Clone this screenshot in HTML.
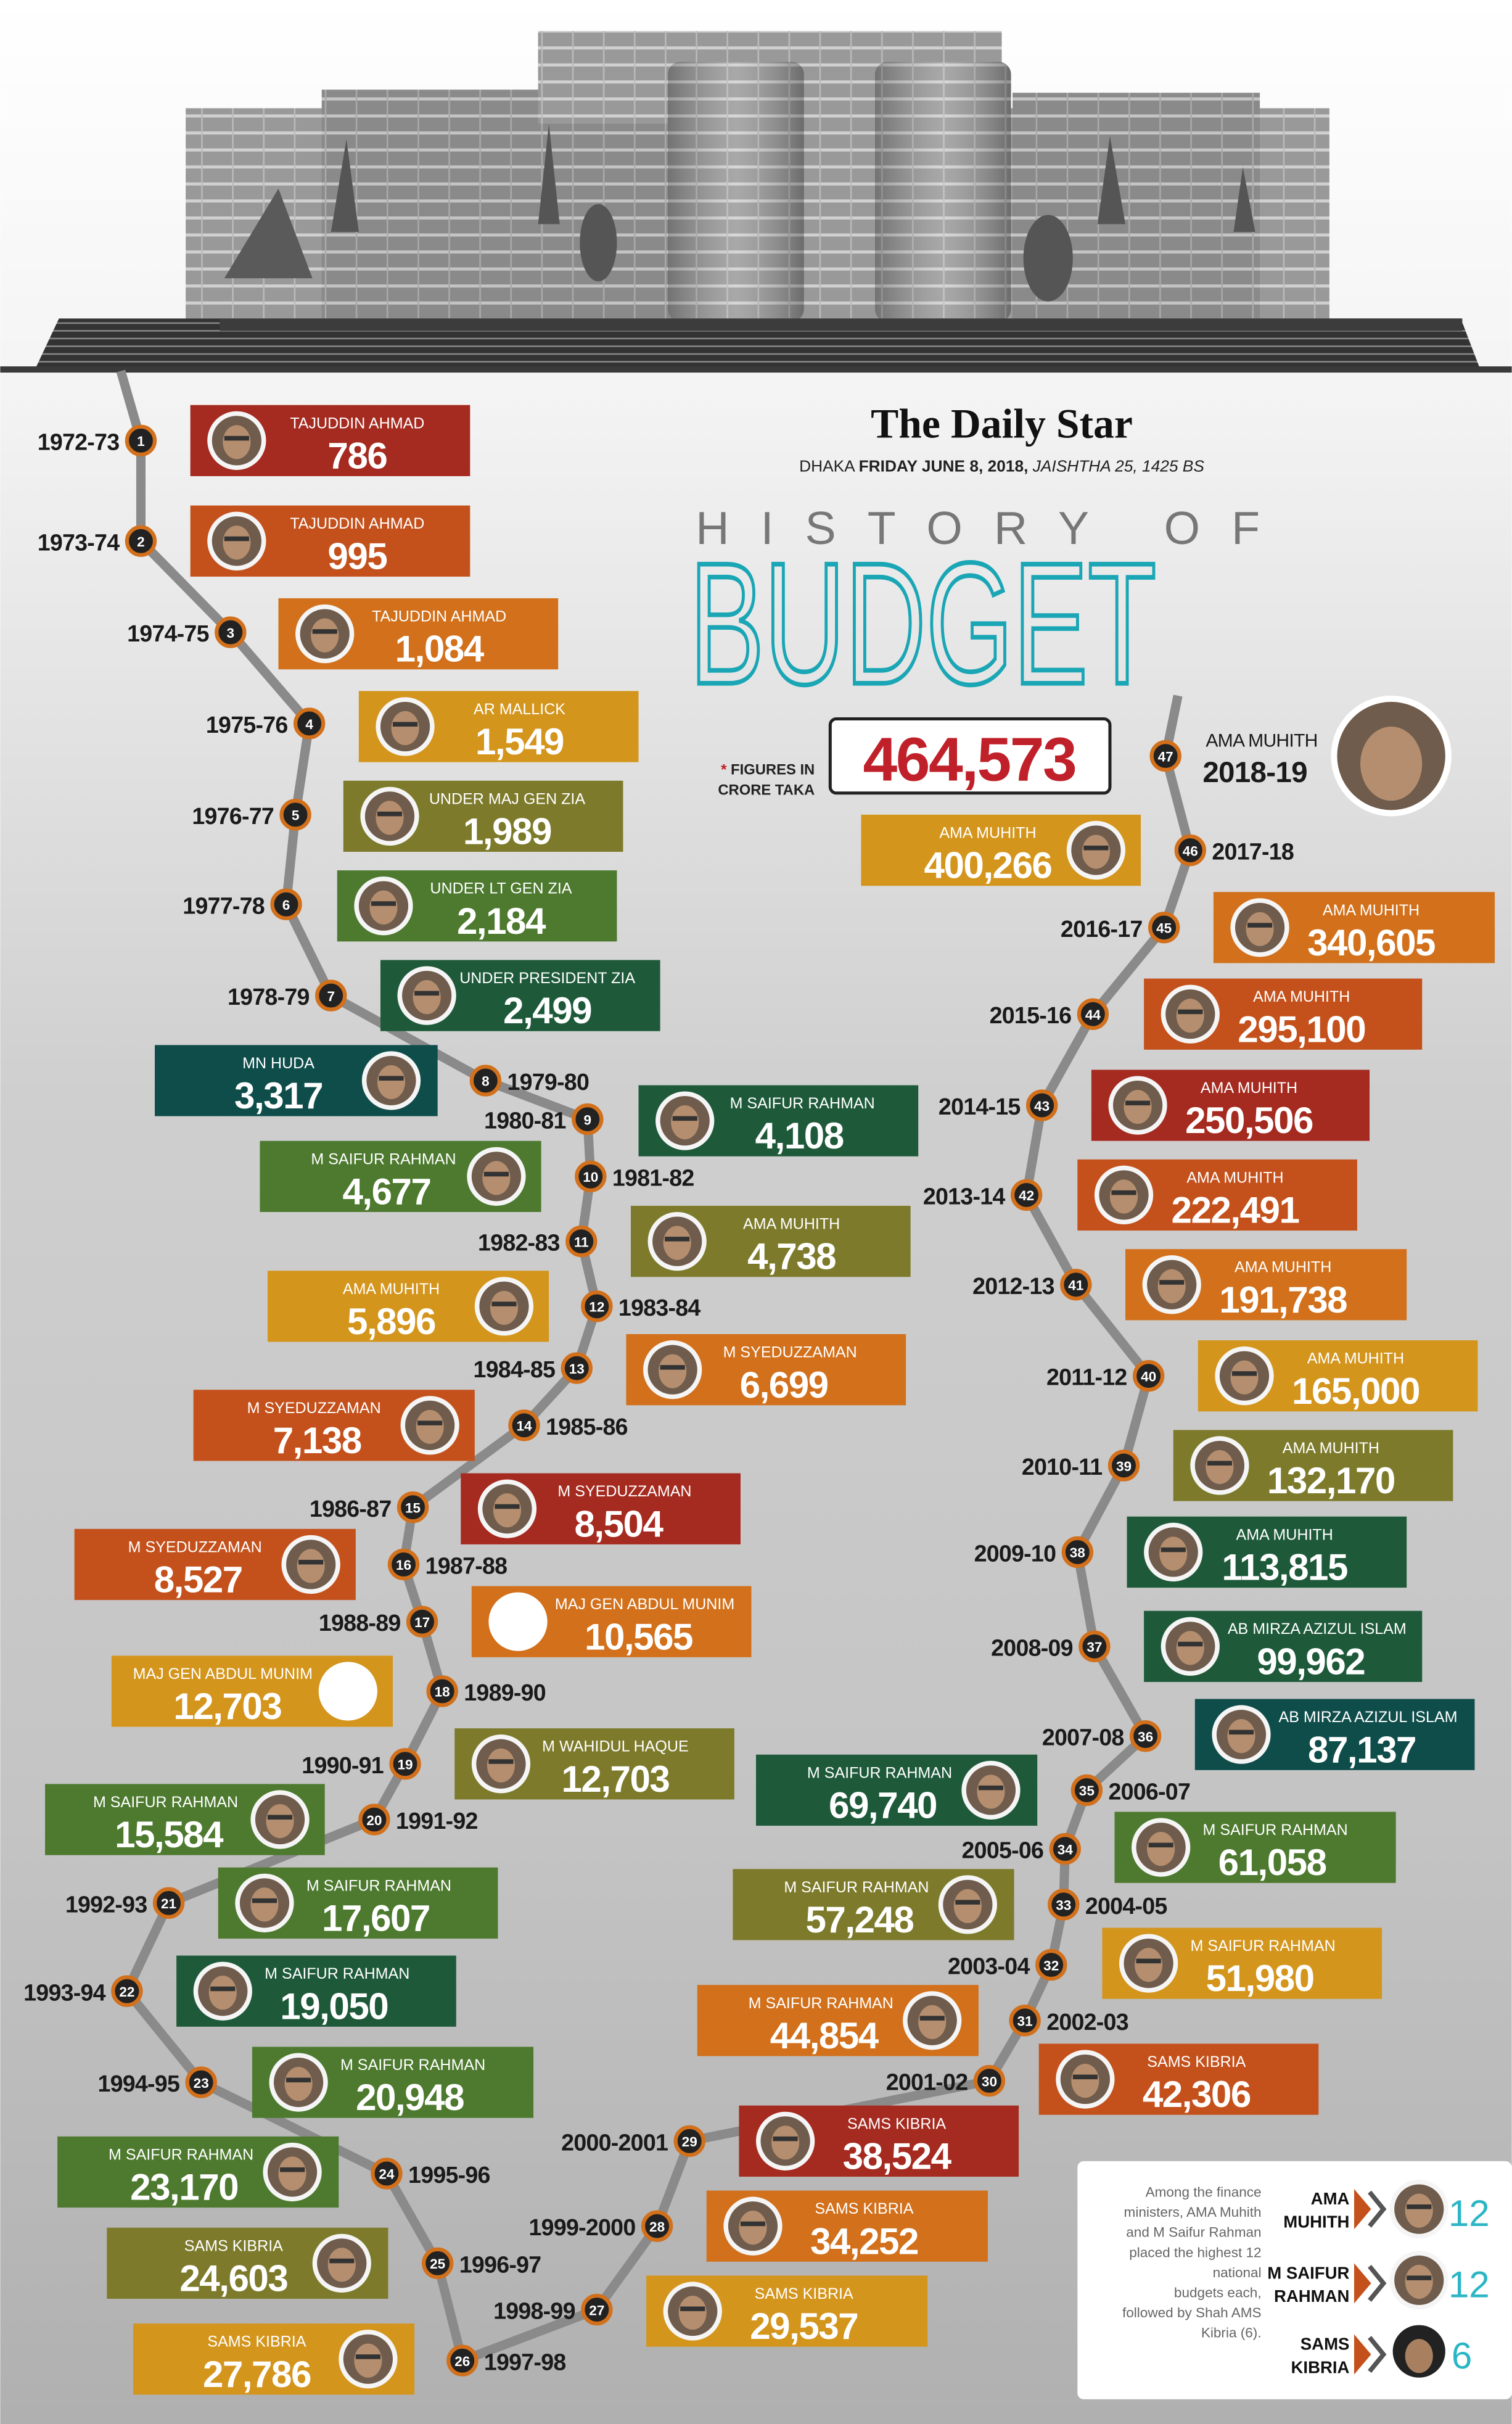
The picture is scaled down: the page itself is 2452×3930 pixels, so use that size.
<!DOCTYPE html>
<html><head><meta charset="utf-8">
<style>
html,body{margin:0;padding:0;background:#fff}
svg{display:block}
.n{fill:#fff;font-family:"Liberation Sans Narrow","Liberation Sans",sans-serif;font-size:10px;text-anchor:middle}
.v{fill:#fff;font-family:"Liberation Sans Narrow","Liberation Sans",sans-serif;font-size:24px;font-weight:bold;text-anchor:middle;letter-spacing:-0.6px}
.y{fill:#1a1a1a;font-family:"Liberation Sans Narrow","Liberation Sans",sans-serif;font-size:15px;font-weight:bold;letter-spacing:-0.3px}
.e{text-anchor:end}
.c{fill:#fff;font-family:"Liberation Sans",sans-serif;font-size:9px;font-weight:bold;text-anchor:middle}
.m circle{fill:#222;stroke:#d2701b;stroke-width:2.5}
</style></head><body>
<svg width="2452" height="3930" viewBox="0 0 978 1568" xmlns="http://www.w3.org/2000/svg">
<defs>
<linearGradient id="bg" x1="0" y1="0" x2="0" y2="1">
<stop offset="0" stop-color="#ffffff"/><stop offset="0.16" stop-color="#f4f4f4"/><stop offset="0.45" stop-color="#cfcfcf"/><stop offset="0.75" stop-color="#c4c4c4"/><stop offset="1" stop-color="#b0b0b0"/>
</linearGradient>
<linearGradient id="cyl" x1="0" y1="0" x2="1" y2="0"><stop offset="0" stop-color="#000" stop-opacity="0.25"/><stop offset="0.5" stop-color="#fff" stop-opacity="0.15"/><stop offset="1" stop-color="#000" stop-opacity="0.3"/></linearGradient>
<pattern id="st" width="20" height="11" patternUnits="userSpaceOnUse"><rect width="20" height="11" fill="#999"/><rect y="8" width="20" height="2" fill="#d0d0d0"/><rect x="10" width="1" height="11" fill="#bbb"/></pattern>
<pattern id="st2" width="20" height="11" patternUnits="userSpaceOnUse"><rect width="20" height="11" fill="#8a8a8a"/><rect y="8" width="20" height="2" fill="#c4c4c4"/><rect x="10" width="1" height="11" fill="#aaa"/></pattern>
<pattern id="stp" width="10" height="5" patternUnits="userSpaceOnUse"><rect width="10" height="5" fill="#333"/><rect y="3.5" width="10" height="1" fill="#888"/></pattern>
<g id="p"><circle r="19" fill="#f5f5f5"/><circle r="16" fill="#6f5c4c"/><ellipse cy="1" rx="9" ry="11" fill="#b48e6e"/><rect x="-8" y="-3" width="16" height="3" fill="#333"/></g>
</defs>
<rect width="978" height="1568" fill="url(#bg)"/>
<!-- building -->
<rect x="120" y="70" width="740" height="137" fill="url(#st)"/>
<rect x="208" y="58" width="230" height="150" fill="url(#st2)"/>
<rect x="655" y="60" width="160" height="148" fill="url(#st2)"/>
<rect x="348" y="20" width="300" height="60" fill="url(#st)"/>
<rect x="432" y="40" width="88" height="168" rx="8" fill="url(#st)"/><rect x="432" y="40" width="88" height="168" rx="8" fill="url(#cyl)"/>
<rect x="566" y="40" width="88" height="168" rx="8" fill="url(#st)"/><rect x="566" y="40" width="88" height="168" rx="8" fill="url(#cyl)"/>
<ellipse cx="387" cy="157" rx="12" ry="25" fill="#555"/>
<ellipse cx="678" cy="167" rx="16" ry="28" fill="#555"/>
<polygon points="145,180 180,122 202,180" fill="#5a5a5a"/>
<polygon points="214,150 224,90 232,150" fill="#555"/>
<polygon points="348,145 355,80 362,145" fill="#555"/>
<polygon points="710,145 718,88 728,145" fill="#555"/>
<polygon points="798,150 804,108 812,150" fill="#555"/>
<polygon points="22,240 38,206 945,206 958,240" fill="url(#stp)"/>
<rect x="142" y="206" width="804" height="8" fill="#3c3c3c"/>
<rect x="0" y="237" width="978" height="4" fill="#3a3a3a"/>
<!-- header -->
<text x="648" y="283" font-family="Liberation Serif,serif" font-weight="bold" font-size="27" text-anchor="middle" fill="#111">The Daily Star</text>
<text x="648" y="305" font-family="Liberation Sans,sans-serif" font-size="10.5" text-anchor="middle" fill="#222">DHAKA <tspan font-weight="bold">FRIDAY JUNE 8, 2018,</tspan> <tspan font-style="italic">JAISHTHA 25, 1425 BS</tspan></text>
<text x="450" y="352" font-family="Liberation Sans,sans-serif" font-size="30" fill="#777" textLength="365" lengthAdjust="spacing">HISTORY OF</text>
<text x="446" y="442" font-family="Liberation Sans,sans-serif" font-size="112" fill="none" stroke="#1aa6b5" stroke-width="3" textLength="302" lengthAdjust="spacingAndGlyphs">BUDGET</text>
<text x="527" y="501" font-family="Liberation Sans Narrow,Liberation Sans,sans-serif" font-size="9.5" font-weight="bold" text-anchor="end" fill="#222"><tspan fill="#c02020">* </tspan>FIGURES IN</text>
<text x="527" y="514" font-family="Liberation Sans Narrow,Liberation Sans,sans-serif" font-size="9.5" font-weight="bold" text-anchor="end" fill="#222">CRORE TAKA</text>
<!-- paths -->
<polyline fill="none" stroke="#8a8a8a" stroke-width="6" stroke-linejoin="round" points="78,240 91,285 91,350 149,409 200,468 191,527 185,585 214,644 314,699 380,724 382,761 376,803 386,845 373,885 339,922 267,975 261,1012 273,1049 286,1094 262,1141 242,1177 109,1231 82,1288 130,1347 250,1406 283,1464 299,1527 386,1494 425,1440 446,1385 640,1346 663,1307 680,1271 688,1232 689,1196 703,1158 741,1123 708,1065 697,1004 727,948 743,890 696,831 664,773 674,715 707,656 753,600 770,550 754,489 762,450"/>
<!-- boxes -->
<g transform="translate(123,262)"><rect width="181" height="46" fill="#a52a1f"/><use href="#p" x="30" y="23"/><text x="108" y="15" class="n">TAJUDDIN AHMAD</text><text x="108" y="41" class="v">786</text></g>
<g transform="translate(123,327)"><rect width="181" height="46" fill="#c4511c"/><use href="#p" x="30" y="23"/><text x="108" y="15" class="n">TAJUDDIN AHMAD</text><text x="108" y="41" class="v">995</text></g>
<g transform="translate(180,387)"><rect width="181" height="46" fill="#d2701b"/><use href="#p" x="30" y="23"/><text x="104" y="15" class="n">TAJUDDIN AHMAD</text><text x="104" y="41" class="v">1,084</text></g>
<g transform="translate(232,447)"><rect width="181" height="46" fill="#d4951d"/><use href="#p" x="30" y="23"/><text x="104" y="15" class="n">AR MALLICK</text><text x="104" y="41" class="v">1,549</text></g>
<g transform="translate(222,505)"><rect width="181" height="46" fill="#7d7b2b"/><use href="#p" x="30" y="23"/><text x="106" y="15" class="n">UNDER MAJ GEN ZIA</text><text x="106" y="41" class="v">1,989</text></g>
<g transform="translate(218,563)"><rect width="181" height="46" fill="#4d7a2f"/><use href="#p" x="30" y="23"/><text x="106" y="15" class="n">UNDER LT GEN  ZIA</text><text x="106" y="41" class="v">2,184</text></g>
<g transform="translate(246,621)"><rect width="181" height="46" fill="#1e5a3a"/><use href="#p" x="30" y="23"/><text x="108" y="15" class="n">UNDER PRESIDENT ZIA</text><text x="108" y="41" class="v">2,499</text></g>
<g transform="translate(100,676)"><rect width="183" height="46" fill="#0f4d4b"/><use href="#p" x="153" y="23"/><text x="80" y="15" class="n">MN HUDA</text><text x="80" y="41" class="v">3,317</text></g>
<g transform="translate(413,702)"><rect width="181" height="46" fill="#1e5a3a"/><use href="#p" x="30" y="23"/><text x="106" y="15" class="n">M SAIFUR RAHMAN</text><text x="104" y="41" class="v">4,108</text></g>
<g transform="translate(168,738)"><rect width="182" height="46" fill="#4d7a2f"/><use href="#p" x="153" y="23"/><text x="80" y="15" class="n">M SAIFUR RAHMAN</text><text x="82" y="41" class="v">4,677</text></g>
<g transform="translate(408,780)"><rect width="181" height="46" fill="#7d7b2b"/><use href="#p" x="30" y="23"/><text x="104" y="15" class="n">AMA MUHITH</text><text x="104" y="41" class="v">4,738</text></g>
<g transform="translate(173,822)"><rect width="182" height="46" fill="#d4951d"/><use href="#p" x="153" y="23"/><text x="80" y="15" class="n">AMA MUHITH</text><text x="80" y="41" class="v">5,896</text></g>
<g transform="translate(405,863)"><rect width="181" height="46" fill="#d2701b"/><use href="#p" x="30" y="23"/><text x="106" y="15" class="n">M SYEDUZZAMAN</text><text x="102" y="41" class="v">6,699</text></g>
<g transform="translate(125,899)"><rect width="182" height="46" fill="#c4511c"/><use href="#p" x="153" y="23"/><text x="78" y="15" class="n">M SYEDUZZAMAN</text><text x="80" y="41" class="v">7,138</text></g>
<g transform="translate(298,953)"><rect width="181" height="46" fill="#a52a1f"/><use href="#p" x="30" y="23"/><text x="106" y="15" class="n">M SYEDUZZAMAN</text><text x="102" y="41" class="v">8,504</text></g>
<g transform="translate(48,989)"><rect width="182" height="46" fill="#c4511c"/><use href="#p" x="153" y="23"/><text x="78" y="15" class="n">M SYEDUZZAMAN</text><text x="80" y="41" class="v">8,527</text></g>
<g transform="translate(305,1026)"><rect width="181" height="46" fill="#d2701b"/><circle cx="30" cy="23" r="19" fill="#fff"/><text x="112" y="15" class="n">MAJ GEN ABDUL MUNIM</text><text x="108" y="41" class="v">10,565</text></g>
<g transform="translate(72,1071)"><rect width="182" height="46" fill="#d4951d"/><circle cx="153" cy="23" r="19" fill="#fff"/><text x="72" y="15" class="n">MAJ GEN ABDUL MUNIM</text><text x="75" y="41" class="v">12,703</text></g>
<g transform="translate(294,1118)"><rect width="181" height="46" fill="#7d7b2b"/><use href="#p" x="30" y="23"/><text x="104" y="15" class="n">M WAHIDUL HAQUE</text><text x="104" y="41" class="v">12,703</text></g>
<g transform="translate(29,1154)"><rect width="181" height="46" fill="#4d7a2f"/><use href="#p" x="152" y="23"/><text x="78" y="15" class="n">M SAIFUR RAHMAN</text><text x="80" y="41" class="v">15,584</text></g>
<g transform="translate(141,1208)"><rect width="181" height="46" fill="#4d7a2f"/><use href="#p" x="30" y="23"/><text x="104" y="15" class="n">M SAIFUR  RAHMAN</text><text x="102" y="41" class="v">17,607</text></g>
<g transform="translate(114,1265)"><rect width="181" height="46" fill="#1e5a3a"/><use href="#p" x="30" y="23"/><text x="104" y="15" class="n">M SAIFUR RAHMAN</text><text x="102" y="41" class="v">19,050</text></g>
<g transform="translate(163,1324)"><rect width="182" height="46" fill="#4d7a2f"/><use href="#p" x="30" y="23"/><text x="104" y="15" class="n">M SAIFUR RAHMAN</text><text x="102" y="41" class="v">20,948</text></g>
<g transform="translate(37,1382)"><rect width="182" height="46" fill="#4d7a2f"/><use href="#p" x="152" y="23"/><text x="80" y="15" class="n">M SAIFUR RAHMAN</text><text x="82" y="41" class="v">23,170</text></g>
<g transform="translate(69,1441)"><rect width="182" height="46" fill="#7d7b2b"/><use href="#p" x="152" y="23"/><text x="82" y="15" class="n">SAMS KIBRIA</text><text x="82" y="41" class="v">24,603</text></g>
<g transform="translate(86,1503)"><rect width="182" height="46" fill="#d4951d"/><use href="#p" x="152" y="23"/><text x="80" y="15" class="n">SAMS KIBRIA</text><text x="80" y="41" class="v">27,786</text></g>
<g transform="translate(418,1472)"><rect width="182" height="46" fill="#d4951d"/><use href="#p" x="30" y="23"/><text x="102" y="15" class="n">SAMS KIBRIA</text><text x="102" y="41" class="v">29,537</text></g>
<g transform="translate(457,1417)"><rect width="182" height="46" fill="#d2701b"/><use href="#p" x="30" y="23"/><text x="102" y="15" class="n">SAMS KIBRIA</text><text x="102" y="41" class="v">34,252</text></g>
<g transform="translate(478,1362)"><rect width="181" height="46" fill="#a52a1f"/><use href="#p" x="30" y="23"/><text x="102" y="15" class="n">SAMS KIBRIA</text><text x="102" y="41" class="v">38,524</text></g>
<g transform="translate(672,1322)"><rect width="181" height="46" fill="#c4511c"/><use href="#p" x="30" y="23"/><text x="102" y="15" class="n">SAMS KIBRIA</text><text x="102" y="41" class="v">42,306</text></g>
<g transform="translate(451,1284)"><rect width="182" height="46" fill="#d2701b"/><use href="#p" x="152" y="23"/><text x="80" y="15" class="n">M SAIFUR RAHMAN</text><text x="82" y="41" class="v">44,854</text></g>
<g transform="translate(713,1247)"><rect width="181" height="46" fill="#d4951d"/><use href="#p" x="30" y="23"/><text x="104" y="15" class="n">M SAIFUR RAHMAN</text><text x="102" y="41" class="v">51,980</text></g>
<g transform="translate(474,1209)"><rect width="182" height="46" fill="#7d7b2b"/><use href="#p" x="152" y="23"/><text x="80" y="15" class="n">M SAIFUR RAHMAN</text><text x="82" y="41" class="v">57,248</text></g>
<g transform="translate(721,1172)"><rect width="182" height="46" fill="#4d7a2f"/><use href="#p" x="30" y="23"/><text x="104" y="15" class="n">M SAIFUR RAHMAN</text><text x="102" y="41" class="v">61,058</text></g>
<g transform="translate(489,1135)"><rect width="182" height="46" fill="#1e5a3a"/><use href="#p" x="152" y="23"/><text x="80" y="15" class="n">M SAIFUR RAHMAN</text><text x="82" y="41" class="v">69,740</text></g>
<g transform="translate(773,1099)"><rect width="181" height="46" fill="#0f4d4b"/><use href="#p" x="30" y="23"/><text x="112" y="15" class="n">AB MIRZA AZIZUL ISLAM</text><text x="108" y="41" class="v">87,137</text></g>
<g transform="translate(740,1042)"><rect width="180" height="46" fill="#1e5a3a"/><use href="#p" x="30" y="23"/><text x="112" y="15" class="n">AB MIRZA AZIZUL ISLAM</text><text x="108" y="41" class="v">99,962</text></g>
<g transform="translate(729,981)"><rect width="181" height="46" fill="#1e5a3a"/><use href="#p" x="30" y="23"/><text x="102" y="15" class="n">AMA MUHITH</text><text x="102" y="41" class="v">113,815</text></g>
<g transform="translate(759,925)"><rect width="181" height="46" fill="#7d7b2b"/><use href="#p" x="30" y="23"/><text x="102" y="15" class="n">AMA MUHITH</text><text x="102" y="41" class="v">132,170</text></g>
<g transform="translate(775,867)"><rect width="181" height="46" fill="#d4951d"/><use href="#p" x="30" y="23"/><text x="102" y="15" class="n">AMA MUHITH</text><text x="102" y="41" class="v">165,000</text></g>
<g transform="translate(728,808)"><rect width="182" height="46" fill="#d2701b"/><use href="#p" x="30" y="23"/><text x="102" y="15" class="n">AMA MUHITH</text><text x="102" y="41" class="v">191,738</text></g>
<g transform="translate(697,750)"><rect width="181" height="46" fill="#c4511c"/><use href="#p" x="30" y="23"/><text x="102" y="15" class="n">AMA MUHITH</text><text x="102" y="41" class="v">222,491</text></g>
<g transform="translate(706,692)"><rect width="180" height="46" fill="#a52a1f"/><use href="#p" x="30" y="23"/><text x="102" y="15" class="n">AMA MUHITH</text><text x="102" y="41" class="v">250,506</text></g>
<g transform="translate(740,633)"><rect width="180" height="46" fill="#c4511c"/><use href="#p" x="30" y="23"/><text x="102" y="15" class="n">AMA MUHITH</text><text x="102" y="41" class="v">295,100</text></g>
<g transform="translate(785,577)"><rect width="182" height="46" fill="#d2701b"/><use href="#p" x="30" y="23"/><text x="102" y="15" class="n">AMA MUHITH</text><text x="102" y="41" class="v">340,605</text></g>
<g transform="translate(557,527)"><rect width="181" height="46" fill="#d4951d"/><use href="#p" x="152" y="23"/><text x="82" y="15" class="n">AMA MUHITH</text><text x="82" y="41" class="v">400,266</text></g>
<!-- 47 -->
<rect x="537" y="465" width="181" height="48" rx="4" fill="#fff" stroke="#222" stroke-width="2"/>
<text x="627" y="505" font-family="Liberation Sans Narrow,Liberation Sans,sans-serif" font-size="40" font-weight="bold" fill="#c0202a" text-anchor="middle" letter-spacing="-1">464,573</text>
<text x="780" y="483" class="y" style="font-size:12px;font-weight:normal">AMA MUHITH</text>
<text x="778" y="506" class="y" style="font-size:19px">2018-19</text>
<circle cx="900" cy="489" r="39" fill="#fff"/><circle cx="900" cy="489" r="35" fill="#6f5c4c"/><ellipse cx="900" cy="494" rx="20" ry="24" fill="#b48e6e"/>
<!-- markers -->
<g class="m">
<circle cx="91" cy="285" r="9"/><circle cx="91" cy="350" r="9"/><circle cx="149" cy="409" r="9"/><circle cx="200" cy="468" r="9"/><circle cx="191" cy="527" r="9"/><circle cx="185" cy="585" r="9"/><circle cx="214" cy="644" r="9"/><circle cx="314" cy="699" r="9"/><circle cx="380" cy="724" r="9"/><circle cx="382" cy="761" r="9"/><circle cx="376" cy="803" r="9"/><circle cx="386" cy="845" r="9"/><circle cx="373" cy="885" r="9"/><circle cx="339" cy="922" r="9"/><circle cx="267" cy="975" r="9"/><circle cx="261" cy="1012" r="9"/><circle cx="273" cy="1049" r="9"/><circle cx="286" cy="1094" r="9"/><circle cx="262" cy="1141" r="9"/><circle cx="242" cy="1177" r="9"/><circle cx="109" cy="1231" r="9"/><circle cx="82" cy="1288" r="9"/><circle cx="130" cy="1347" r="9"/><circle cx="250" cy="1406" r="9"/><circle cx="283" cy="1464" r="9"/><circle cx="299" cy="1527" r="9"/><circle cx="386" cy="1494" r="9"/><circle cx="425" cy="1440" r="9"/><circle cx="446" cy="1385" r="9"/><circle cx="640" cy="1346" r="9"/><circle cx="663" cy="1307" r="9"/><circle cx="680" cy="1271" r="9"/><circle cx="688" cy="1232" r="9"/><circle cx="689" cy="1196" r="9"/><circle cx="703" cy="1158" r="9"/><circle cx="741" cy="1123" r="9"/><circle cx="708" cy="1065" r="9"/><circle cx="697" cy="1004" r="9"/><circle cx="727" cy="948" r="9"/><circle cx="743" cy="890" r="9"/><circle cx="696" cy="831" r="9"/><circle cx="664" cy="773" r="9"/><circle cx="674" cy="715" r="9"/><circle cx="707" cy="656" r="9"/><circle cx="753" cy="600" r="9"/><circle cx="770" cy="550" r="9"/><circle cx="754" cy="489" r="9"/>
</g>
<g class="c">
<text x="91" y="288.5" class="c">1</text><text x="91" y="353.5" class="c">2</text><text x="149" y="412.5" class="c">3</text><text x="200" y="471.5" class="c">4</text><text x="191" y="530.5" class="c">5</text><text x="185" y="588.5" class="c">6</text><text x="214" y="647.5" class="c">7</text><text x="314" y="702.5" class="c">8</text><text x="380" y="727.5" class="c">9</text><text x="382" y="764.5" class="c">10</text><text x="376" y="806.5" class="c">11</text><text x="386" y="848.5" class="c">12</text><text x="373" y="888.5" class="c">13</text><text x="339" y="925.5" class="c">14</text><text x="267" y="978.5" class="c">15</text><text x="261" y="1015.5" class="c">16</text><text x="273" y="1052.5" class="c">17</text><text x="286" y="1097.5" class="c">18</text><text x="262" y="1144.5" class="c">19</text><text x="242" y="1180.5" class="c">20</text><text x="109" y="1234.5" class="c">21</text><text x="82" y="1291.5" class="c">22</text><text x="130" y="1350.5" class="c">23</text><text x="250" y="1409.5" class="c">24</text><text x="283" y="1467.5" class="c">25</text><text x="299" y="1530.5" class="c">26</text><text x="386" y="1497.5" class="c">27</text><text x="425" y="1443.5" class="c">28</text><text x="446" y="1388.5" class="c">29</text><text x="640" y="1349.5" class="c">30</text><text x="663" y="1310.5" class="c">31</text><text x="680" y="1274.5" class="c">32</text><text x="688" y="1235.5" class="c">33</text><text x="689" y="1199.5" class="c">34</text><text x="703" y="1161.5" class="c">35</text><text x="741" y="1126.5" class="c">36</text><text x="708" y="1068.5" class="c">37</text><text x="697" y="1007.5" class="c">38</text><text x="727" y="951.5" class="c">39</text><text x="743" y="893.5" class="c">40</text><text x="696" y="834.5" class="c">41</text><text x="664" y="776.5" class="c">42</text><text x="674" y="718.5" class="c">43</text><text x="707" y="659.5" class="c">44</text><text x="753" y="603.5" class="c">45</text><text x="770" y="553.5" class="c">46</text><text x="754" y="492.5" class="c">47</text>
</g>
<!-- years -->
<text x="77" y="291" class="y e">1972-73</text>
<text x="77" y="356" class="y e">1973-74</text>
<text x="135" y="415" class="y e">1974-75</text>
<text x="186" y="474" class="y e">1975-76</text>
<text x="177" y="533" class="y e">1976-77</text>
<text x="171" y="591" class="y e">1977-78</text>
<text x="200" y="650" class="y e">1978-79</text>
<text x="328" y="705" class="y">1979-80</text>
<text x="366" y="730" class="y e">1980-81</text>
<text x="396" y="767" class="y">1981-82</text>
<text x="362" y="809" class="y e">1982-83</text>
<text x="400" y="851" class="y">1983-84</text>
<text x="359" y="891" class="y e">1984-85</text>
<text x="353" y="928" class="y">1985-86</text>
<text x="253" y="981" class="y e">1986-87</text>
<text x="275" y="1018" class="y">1987-88</text>
<text x="259" y="1055" class="y e">1988-89</text>
<text x="300" y="1100" class="y">1989-90</text>
<text x="248" y="1147" class="y e">1990-91</text>
<text x="256" y="1183" class="y">1991-92</text>
<text x="95" y="1237" class="y e">1992-93</text>
<text x="68" y="1294" class="y e">1993-94</text>
<text x="116" y="1353" class="y e">1994-95</text>
<text x="264" y="1412" class="y">1995-96</text>
<text x="297" y="1470" class="y">1996-97</text>
<text x="313" y="1533" class="y">1997-98</text>
<text x="372" y="1500" class="y e">1998-99</text>
<text x="411" y="1446" class="y e">1999-2000</text>
<text x="432" y="1391" class="y e">2000-2001</text>
<text x="626" y="1352" class="y e">2001-02</text>
<text x="677" y="1313" class="y">2002-03</text>
<text x="666" y="1277" class="y e">2003-04</text>
<text x="702" y="1238" class="y">2004-05</text>
<text x="675" y="1202" class="y e">2005-06</text>
<text x="717" y="1164" class="y">2006-07</text>
<text x="727" y="1129" class="y e">2007-08</text>
<text x="694" y="1071" class="y e">2008-09</text>
<text x="683" y="1010" class="y e">2009-10</text>
<text x="713" y="954" class="y e">2010-11</text>
<text x="729" y="896" class="y e">2011-12</text>
<text x="682" y="837" class="y e">2012-13</text>
<text x="650" y="779" class="y e">2013-14</text>
<text x="660" y="721" class="y e">2014-15</text>
<text x="693" y="662" class="y e">2015-16</text>
<text x="739" y="606" class="y e">2016-17</text>
<text x="784" y="556" class="y">2017-18</text>
<!-- legend -->
<rect x="697" y="1398" width="281" height="154" rx="4" fill="#fff"/>
<g font-family="Liberation Sans,sans-serif" font-size="9" fill="#666" text-anchor="end">
<text x="816" y="1421">Among the finance</text><text x="816" y="1434">ministers, AMA Muhith</text><text x="816" y="1447">and M Saifur Rahman</text><text x="816" y="1460">placed the highest 12</text><text x="816" y="1473">national</text><text x="816" y="1486">budgets each,</text><text x="816" y="1499">followed by Shah AMS</text><text x="816" y="1512">Kibria (6).</text>
</g>
<g font-family="Liberation Sans Narrow,Liberation Sans,sans-serif" font-size="11" font-weight="bold" fill="#111" text-anchor="end">
<text x="873" y="1426">AMA</text><text x="873" y="1441">MUHITH</text>
<text x="873" y="1474">M SAIFUR</text><text x="873" y="1489">RAHMAN</text>
<text x="873" y="1520">SAMS</text><text x="873" y="1535">KIBRIA</text>
</g>
<polygon points="876,1416 887,1429 876,1442" fill="#c4511c"/><polyline points="886,1418 895,1429 886,1440" fill="none" stroke="#555" stroke-width="3"/>
<polygon points="876,1464 887,1477 876,1490" fill="#c4511c"/><polyline points="886,1466 895,1477 886,1488" fill="none" stroke="#555" stroke-width="3"/>
<polygon points="876,1510 887,1523 876,1536" fill="#c4511c"/><polyline points="886,1512 895,1523 886,1534" fill="none" stroke="#555" stroke-width="3"/>
<use href="#p" x="918" y="1429"/><use href="#p" x="918" y="1475"/>
<circle cx="918" cy="1521" r="17" fill="#222"/><ellipse cx="918" cy="1524" rx="9" ry="11" fill="#a88060"/>
<g font-family="Liberation Sans,sans-serif" font-size="24" fill="#2bb5c5">
<text x="937" y="1440">12</text><text x="937" y="1486">12</text><text x="939" y="1532">6</text>
</g>
</svg>
</body></html>
